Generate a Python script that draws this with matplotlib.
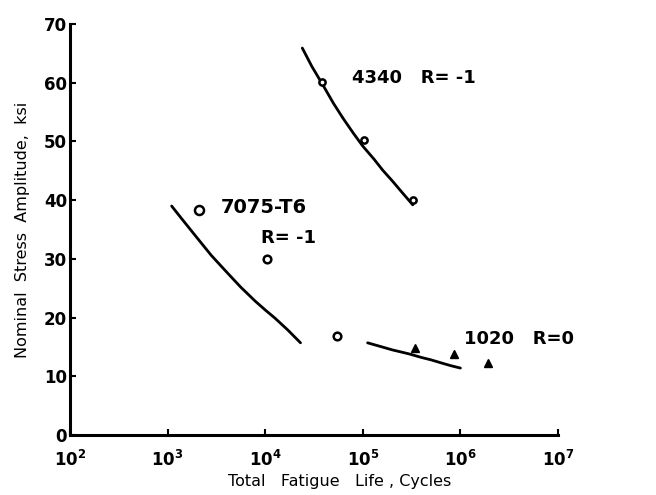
"""
Total fatigue life vs nominal stress amplitude (4340, 7075-T6, 1020).
"""

import matplotlib
matplotlib.use("Agg")
import matplotlib.pyplot as plt

# measured points (cycles, ksi)
life_4340   = [3.8e4, 1.02e5, 3.3e5]
stress_4340 = [60.1, 50.3, 40.0]
life_7075   = [2.1e3, 1.05e4, 5.4e4]
stress_7075 = [38.3, 30.0, 16.9]
life_1020   = [3.4e5, 8.5e5, 1.9e6]
stress_1020 = [14.8, 13.8, 12.3]

# fitted curves
curve_4340_life   = [2.4e4, 3.0e4, 4.0e4, 5.0e4, 6.3e4, 8.0e4, 1.0e5,
                     1.3e5, 1.6e5, 2.0e5, 2.5e5, 3.25e5]
curve_4340_stress = [65.9, 62.8, 59.3, 56.5, 53.9, 51.4, 49.2,
                     47.0, 45.1, 43.3, 41.4, 39.2]
curve_7075_life   = [1.1e3, 1.4e3, 2.0e3, 2.8e3, 4.0e3, 5.6e3, 7.9e3,
                     1.0e4, 1.26e4, 1.7e4, 2.3e4]
curve_7075_stress = [39.0, 36.8, 33.6, 30.6, 27.8, 25.2, 22.8,
                     21.3, 19.9, 17.9, 15.7]
curve_1020_life   = [1.12e5, 1.5e5, 2.0e5, 3.0e5, 4.0e5, 5.0e5, 6.3e5, 8.0e5, 1.0e6]
curve_1020_stress = [15.7, 15.1, 14.5, 13.8, 13.2, 12.8, 12.3, 11.8, 11.4]

x_ticks  = [1e2, 1e3, 1e4, 1e5, 1e6, 1e7]
x_labels = [r"$10^{2}$", r"$10^{3}$", r"$10^{4}$", r"$10^{5}$", r"$10^{6}$", r"$10^{7}$"]
y_ticks  = [0, 10, 20, 30, 40, 50, 60, 70]

plt.rcParams["font.family"] = ["DejaVu Sans"]
plt.rcParams["mathtext.default"] = "bf"

fig = plt.figure(figsize=(6.56, 4.95), dpi=100)
ax = fig.add_axes([70/656, 60/495, 488/656, 411/495])

for lx, ly in [(curve_4340_life, curve_4340_stress),
               (curve_7075_life, curve_7075_stress),
               (curve_1020_life, curve_1020_stress)]:
    ax.plot(lx, ly, color="black", lw=2.0, solid_capstyle="round")

ax.plot(life_4340, stress_4340, "o", mfc="white", mec="black", mew=1.8, ms=4.5)
ax.plot(life_7075[:1], stress_7075[:1], "o", mfc="white", mec="black", mew=1.8, ms=6.5)
ax.plot(life_7075[1:], stress_7075[1:], "o", mfc="white", mec="black", mew=1.8, ms=5.5)
ax.plot(life_1020, stress_1020, "^", color="black", ms=6)

ax.text(7.8e4, 60.8, "4340   R= -1", fontsize=13, fontweight="bold", va="center")
ax.text(3.5e3, 38.7, "7075-T6", fontsize=14, fontweight="bold", va="center")
ax.text(9.0e3, 33.6, "R= -1", fontsize=13, fontweight="bold", va="center")
ax.text(1.1e6, 16.4, "1020   R=0", fontsize=13, fontweight="bold", va="center")

ax.set_xscale("log")
ax.set_xlim(1e2, 1e7)
ax.set_ylim(0, 70)
ax.set_xticks(x_ticks)
ax.set_xticklabels(x_labels, fontsize=12, fontweight="bold")
ax.minorticks_off()
ax.set_yticks(y_ticks)
ax.set_yticklabels([str(v) for v in y_ticks], fontsize=12, fontweight="bold")
ax.tick_params(direction="in", length=4, width=1.5)
ax.tick_params(axis="x", pad=11)
ax.tick_params(axis="y", pad=2)

for side in ["top", "right"]:
    ax.spines[side].set_visible(False)
for side in ["left", "bottom"]:
    ax.spines[side].set_linewidth(2.2)

ax.set_xlabel("Total   Fatigue   Life , Cycles", fontsize=11.5)
ax.xaxis.set_label_coords(0.553, -0.095)
ax.set_ylabel("Nominal  Stress  Amplitude,  ksi", fontsize=11.5, labelpad=10)

fig.savefig("out.png", dpi=100)
